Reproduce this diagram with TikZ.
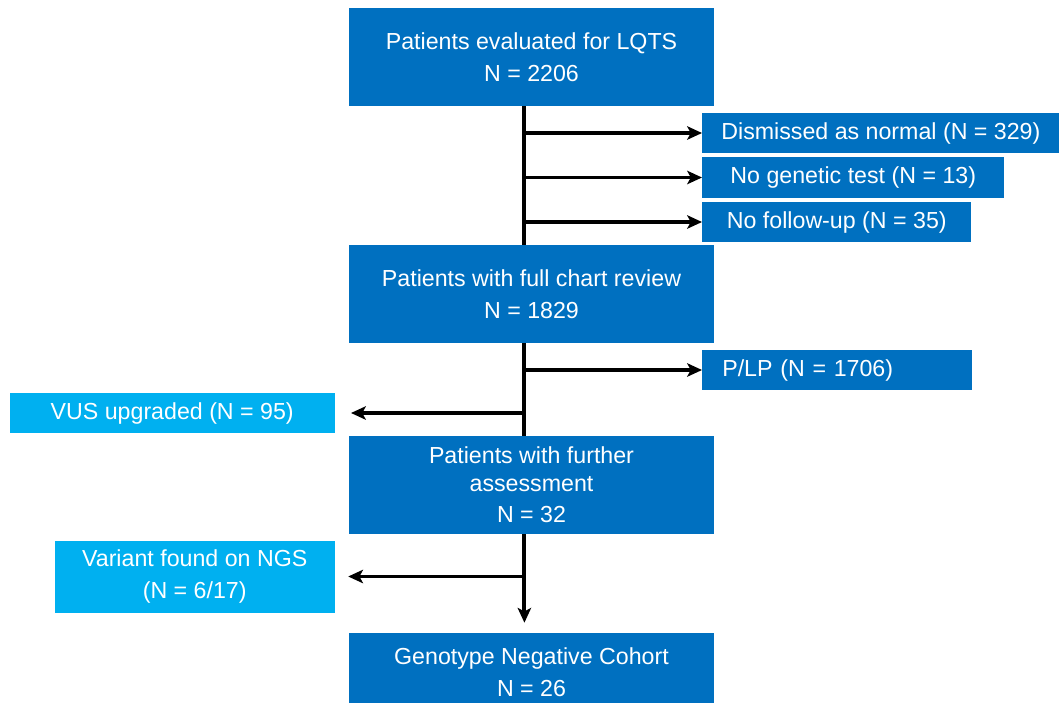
\documentclass[tikz,border=0pt]{standalone}
\usepackage{fontspec}
\setmainfont{Liberation Sans}
\usetikzlibrary{arrows.meta, positioning, calc}
\definecolor{darkbox}{HTML}{0070C0}
\definecolor{lightbox}{HTML}{00B0F0}

\begin{document}
\begin{tikzpicture}[
    font=\fontsize{16.5}{22.5}\selectfont,
    >={Stealth[length=10.5pt, width=9.5pt, inset=2.5pt]},
    main/.style={rectangle, fill=darkbox, text=white, minimum width=9.125cm, minimum height=2.45cm, align=center, inner sep=0pt},
    side/.style={rectangle, fill=darkbox, text=white, minimum height=1cm, align=center, inner sep=0pt, anchor=west},
    extra/.style={rectangle, fill=lightbox, text=white, minimum height=1cm, align=center, inner sep=0pt, anchor=east},
    link/.style={line width=2.8pt}
]
\clip (0,0) rectangle (26.475,-17.55);

% Nodes
\node[main] (evaluated) at (13.2875, -1.425) {Patients evaluated for LQTS\\N = 2206};
\node[main] (review) at (13.2875, -7.35) {Patients with full chart review\\N = 1829};
\node[main, font=\fontsize{16.5}{19.5}\selectfont] (further) at (13.2875, -12.125) {Patients with further\\assessment\\[3pt]N = 32};
\node[main, minimum height=1.975cm] (cohort) at (13.2875, -16.8125) {Genotype Negative Cohort\\N = 26};

\node[side, minimum width=8.93cm, minimum height=1.0cm] (dismissed) at (17.55, -3.325) {Dismissed as normal (N = 329)};
\node[side, minimum width=7.55cm, minimum height=1.025cm] (nogenetic) at (17.55, -4.4375) {No genetic test (N = 13)};
\node[side, minimum width=6.725cm] (nofollow) at (17.55, -5.55) {No follow-up (N = 35)};
\node[side, text width=5.75cm, align=left, inner xsep=0.5cm] (plp) at (17.55, -9.25) {P/LP (N = 1706)};

\node[extra, minimum width=8.125cm] (vus) at (8.375, -10.325) {VUS upgraded (N = 95)};
\node[extra, minimum width=7.0cm, minimum height=1.8cm] (variant) at (8.375, -14.4125) {Variant found on NGS\\(N = 6/17)};

\coordinate (trunk) at (13.11, 0);

% Main flow
\draw[link] (evaluated.south -| trunk) -- (review.north -| trunk);
\draw[link] (review.south -| trunk) -- (further.north -| trunk);
\draw[link, ->, shorten >=0.25cm] (further.south -| trunk) -- (cohort.north -| trunk);

% Exclusions (right)
\draw[link, ->] (trunk |- dismissed.west) -- (dismissed.west);
\draw[link, ->] (trunk |- nogenetic.west) -- (nogenetic.west);
\draw[link, ->] (trunk |- nofollow.west) -- (nofollow.west);
\draw[link, ->] (trunk |- plp.west) -- (plp.west);

% Reclassified (left)
\draw[link, ->, shorten >=0.4cm] (trunk |- vus.east) -- (vus.east);
\draw[link, ->, shorten >=0.33cm] (trunk |- variant.east) -- (variant.east);

\end{tikzpicture}
\end{document}
